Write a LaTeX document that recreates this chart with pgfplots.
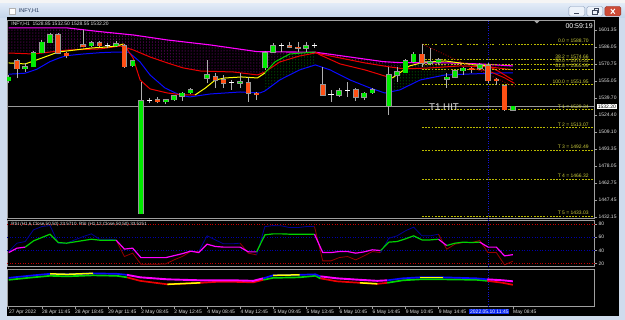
\documentclass[border=0pt]{standalone}
\usepackage{fontspec}
\setmainfont{Liberation Sans}
\usepackage{pgfplots}
\usepackage{pgfplotstable}
\pgfplotsset{compat=1.18}
\usetikzlibrary{patterns}

\definecolor{chrome}{RGB}{207,220,237}
\definecolor{titletop}{RGB}{226,235,247}
\definecolor{titlebot}{RGB}{196,213,234}
\definecolor{titletext}{RGB}{30,50,85}
\definecolor{btnfill}{RGB}{236,242,250}
\definecolor{btnborder}{RGB}{130,150,180}
\definecolor{btnicon}{RGB}{60,70,90}
\definecolor{closefill}{RGB}{205,75,55}
\definecolor{closeborder}{RGB}{140,50,40}
\definecolor{bull}{RGB}{0,235,0}
\definecolor{bear}{RGB}{255,80,20}
\definecolor{wick}{RGB}{175,175,175}
\definecolor{outl}{RGB}{150,150,150}
\definecolor{mag}{RGB}{255,0,255}
\definecolor{purp}{RGB}{175,0,175}
\definecolor{mared}{RGB}{235,0,0}
\definecolor{mablue}{RGB}{10,10,255}
\definecolor{mayel}{RGB}{255,255,0}
\definecolor{mgreen}{RGB}{0,210,0}
\definecolor{dgreen}{RGB}{0,150,0}
\definecolor{fib}{RGB}{185,185,0}
\definecolor{fibtxt}{RGB}{205,205,60}
\definecolor{navyc}{RGB}{0,0,150}
\definecolor{dred}{RGB}{150,0,0}
\definecolor{lvlred}{RGB}{200,0,0}
\definecolor{lvlblue}{RGB}{0,0,170}
\definecolor{xhair}{RGB}{20,20,210}
\definecolor{boxblue}{RGB}{10,40,240}
\definecolor{lbl}{RGB}{225,225,225}
\definecolor{dotblue}{RGB}{0,0,230}
\definecolor{dotred}{RGB}{210,0,0}

\newcommand\mt{\fontsize{5}{6}\selectfont}

% candles
\pgfplotstableread{
i o h l c
0 1555.5 1560.6 1553.1 1558.5
2 1566.1 1571.2 1563.6 1568.1
3 1568.1 1582.3 1567.6 1580.8
4 1580.8 1592.3 1580.3 1590.2
5 1589.9 1598.9 1589.3 1596.8
10 1586.9 1591.4 1586.2 1589.9
13 1586.9 1591.4 1586.2 1588.7
15 1569.0 1574.2 1568.1 1573.3
16 1434.8 1554.6 1434.8 1537.1
19 1536.5 1538.9 1534.1 1538.0
20 1538.0 1542.5 1537.4 1541.6
21 1541.6 1545.5 1537.1 1544.1
22 1544.6 1548.6 1543.4 1547.0
24 1557.6 1574.2 1553.1 1560.6
28 1553.1 1562.2 1548.6 1554.6
31 1567.2 1582.6 1565.2 1580.8
32 1581.2 1589.3 1580.3 1587.1
36 1584.8 1590.8 1581.7 1586.9
40 1542.5 1548.6 1541.0 1546.1
43 1540.4 1545.5 1538.0 1544.1
44 1544.6 1548.6 1543.4 1547.0
46 1532.6 1568.1 1524.4 1560.6
47 1560.6 1568.1 1554.6 1563.6
48 1562.7 1574.8 1562.2 1573.6
49 1572.6 1581.7 1571.8 1579.4
51 1571.2 1585.3 1569.7 1572.6
52 1572.1 1575.7 1570.6 1574.2
53 1557.0 1562.2 1548.6 1558.5
54 1558.5 1565.2 1557.6 1564.5
55 1564.5 1568.1 1560.6 1566.7
57 1566.7 1571.8 1565.2 1569.7
61 1528.85 1532.50 1528.55 1532.20
}\bullc

\pgfplotstableread{
i o h l c
1 1573.3 1574.8 1557.6 1566.1
6 1596.8 1598.4 1579.4 1580.3
7 1580.3 1581.2 1575.7 1578.1
9 1587.8 1600.9 1585.7 1586.2
11 1589.9 1591.4 1585.7 1586.9
14 1586.9 1588.4 1567.2 1568.1
18 1538.0 1540.4 1535.0 1536.5
25 1559.1 1562.2 1548.6 1556.1
26 1556.1 1560.6 1548.6 1553.1
29 1553.7 1559.1 1536.5 1544.1
30 1544.1 1545.5 1538.0 1542.8
34 1586.9 1591.4 1584.8 1585.7
35 1585.7 1590.8 1581.7 1584.8
38 1551.6 1568.1 1541.6 1542.5
42 1547.0 1548.6 1537.4 1540.4
50 1579.4 1588.7 1568.1 1571.2
56 1566.7 1568.1 1562.2 1565.2
58 1569.0 1571.2 1553.1 1555.5
59 1556.7 1557.6 1551.6 1555.5
60 1550.9 1551.6 1528.3 1528.95
}\bearc

\pgfplotstableread{
i p h l
12 1587.25 1589.3 1584.8
17 1537.35 1539.5 1535.0
27 1553.95 1556.1 1547.0
33 1586.95 1589.3 1581.7
37 1587.25 1589.9 1584.8
39 1542.55 1547.0 1536.5
41 1546.85 1554.6 1541.0
}\dojic

% moving averages
\pgfplotstableread{
i p
0 1603.2
7.1 1603.2
11.1 1599.8
15.1 1596.8
19.2 1592.3
24.4 1587.8
30.1 1581.7
37.1 1581.2
38.0 1580.3
45.3 1572.7
47.3 1571.8
53.4 1571.5
57.0 1570.6
61 1568.8
}\maM

\pgfplotstableread{
i p
0 1580.5
3 1579.6
7.1 1583.2
11.1 1584.2
13.5 1586.9
15.1 1583.2
17.1 1576.9
19.2 1571.5
21.1 1567.0
23.2 1564.2
27.2 1563.3
30.1 1560.6
31 1563.3
32.8 1572.4
35.2 1577.8
37.1 1580.5
40.1 1576.0
43.1 1571.5
46.1 1567.9
47.9 1566.1
51 1567.0
54.6 1568.8
58.2 1567.9
61 1565.2
}\maR

\pgfplotstableread{
i p
0 1571.5
2 1570.6
4.05 1576.0
6 1581.4
8 1583.2
10.1 1585.1
12 1586.0
13.1 1586.9
13.9 1588.7
15.05 1576.0
15.9 1556.1
17.1 1548.0
19.2 1544.3
21.1 1542.5
22.55 1542.5
23.8 1548.8
25 1556.1
26.2 1557.9
28.2 1558.8
30.1 1557.9
31 1562.4
32.2 1572.4
34 1579.6
37.1 1581.4
37.7 1578.7
40.1 1570.6
43.1 1565.2
45.5 1559.7
46.4 1557.9
47.3 1562.4
48.5 1568.8
50.4 1572.4
52.8 1573.3
54.6 1571.5
56.4 1569.7
58 1568.8
59.4 1563.4
61 1556.1
}\maF

\pgfplotstableread{
i p
0 1561.3
2 1562.2
3.4 1565.8
5 1572.7
6 1575.7
7 1578.1
9 1579.6
11.1 1580.8
13.1 1581.4
14.5 1581.4
15.9 1572.4
17.1 1560.6
18.9 1548.9
20.7 1542.5
21.9 1540.7
24.4 1543.4
28 1545.2
30.4 1544.3
31 1546.1
32.8 1556.1
35.2 1565.2
37.1 1569.7
38.9 1565.2
41.3 1556.1
43.7 1548.9
45.5 1544.3
47.3 1547.0
49.8 1556.1
52.8 1560.6
55.8 1561.5
59.4 1562.4
61 1562.4
}\maB

% RSI
\pgfplotstableread{
i r6 r12
0 38.3 36.7
1 51 43.4
2 53.5 45
3 71.3 54.5
4 76.3 59.6
5 77.8 64.7
6 51 52
7 51 51
8 56 53
9 61 55
10 65.2 57
11 57 55.6
12 57 55.6
13 56 55.6
14 30.7 42
15 35.8 43.4
16 19 29
17 19 29
18 19 29
19 19.5 29
20 25.6 32
21 30.7 35
22 38.3 38.9
23 38.3 36.7
24 62.2 49.5
25 56 46
26 50 45
27 50 45
28 51 45
29 35.8 37.8
30 33.2 37.8
31 76.3 63.7
32 77.8 65.2
33 77.4 65.2
34 74.8 64.7
35 74.8 64.7
36 76.3 64.7
37 76.3 64.7
38 24.1 36.7
39 24.1 36.7
40 29.1 38.3
41 30.7 38.3
42 25.6 35.8
43 31.7 37.8
44 38.3 40.9
45 36.7 39.8
46 58.6 52.6
47 62.2 53.5
48 69.8 57.6
49 75.4 62.2
50 62.2 56
51 62.2 56
52 64.7 57
53 41.9 47.4
54 49.5 51
55 52 52.6
56 52 52
57 55 52.6
58 36.7 45
59 36.7 45
60 18 31.7
61 23.57 33.53
}\rsi

% lower oscillator ribbon
\pgfplotstableread{
i u l
0 77.3 72
3 84 78.7
5 88 82.7
7.1 86.7 81.3
10.2 89.3 84
13.1 88 82.7
14.3 85.3 78.7
15.9 78.7 69.3
19.2 73.3 60
23.2 70.7 64
25.2 70.7 66.7
27.2 70.7 66.7
29.6 69.3 65.3
30.8 76 72
32 84 77.3
35.2 85.3 78.7
37.1 86.7 82.7
37.7 81.3 76
39.7 76 68
42.5 72 64
44.6 69.3 61.3
45.8 70.7 64
47.7 76 70.7
49.8 78.7 73.3
52.5 78.7 73.3
56.6 76 72
57.9 73.3 69.3
59.8 70.7 64
61 68 58.7
}\osc

\pgfplotsset{
  pane/.style={scale only axis, width=588bp, xmin=-0.181, xmax=70.92,
    anchor=south west,
    axis background/.style={fill=black},
    axis line style={draw=gray!75, line width=0.8bp},
    tick style={draw=gray!75, line width=0.5bp},
    major tick length=2.5bp, tick align=outside,
    ticklabel style={font=\mt, text=lbl, inner sep=1bp},
    clip=true},
  ebar/.style 2 args={forget plot, mark=none, draw opacity=0,
    error bars/y dir=plus, error bars/y explicit, error bars/error mark=none,
    error bars/error bar style={draw=#1, draw opacity=1, line width=#2}},
  sqdot/.style={only marks, mark=square*, mark size=0.65bp, mark options={draw=none, fill=#1}},
  fibl/.style={fib, line width=0.6bp, dash pattern=on 1.8bp off 1.4bp},
}

\begin{document}
\begin{tikzpicture}
% window chrome
\begin{scope}[x=1bp,y=1bp]
\fill[chrome] (0,0) rectangle (625,320);
\fill[black!4] (0,317) rectangle (625,320);
\draw[black!20] (0,317) -- (625,317);
\shade[top color=titletop, bottom color=titlebot] (0,302.5) rectangle (625,316.5);
\fill[black] (6.5,3.5) rectangle (619,302.5);
\draw[fill=white, draw=gray!60] (9,306) rectangle (15,312);
\node[anchor=west, font=\fontsize{5.5}{6}\selectfont, text=titletext, inner sep=0] at (18.5,309) {INFY,H1};
\draw[fill=btnfill, draw=btnborder, rounded corners=1.5bp] (569,304) rectangle (585,313.5);
\draw[line width=1.2bp, btnicon] (574.5,306.5) -- (579.5,306.5);
\draw[fill=btnfill, draw=btnborder, rounded corners=1.5bp] (587,304) rectangle (603,313.5);
\draw[line width=0.6bp, btnicon] (592.5,306) rectangle (597,310) (594,310) -- (594,311.5) -- (598.5,311.5) -- (598.5,307.5) -- (597,307.5);
\draw[fill=closefill, draw=closeborder, rounded corners=1.5bp] (605,304) rectangle (621,313.5);
\draw[line width=1bp, white] (611,306.3) -- (615,311) (611,311) -- (615,306.3);
\end{scope}

% ===== main pane =====
\begin{axis}[pane, at={(7bp,101.5bp)}, height=198.5bp,
  ymin=1430.76, ymax=1610.40, xtick=\empty,
  ytick={1601.35,1586.05,1570.75,1555.05,1539.70,1524.40,1509.10,1493.35,1478.05,1462.75,1447.45,1432.15},
  yticklabels={1601.35,1586.05,1570.75,1555.05,1539.70,1524.40,1509.10,1493.35,1478.05,1462.75,1447.45,1432.15},
  ytick pos=right, yticklabel pos=right]
  % dotted cloud bands
  \addplot[pattern=dots, pattern color=purp, draw=none, forget plot] coordinates {
    (0,1603.2) (7.1,1603.2) (11.1,1599.8) (15.1,1596.8) (19.2,1592.3) (24.4,1587.8) (30.1,1581.7) (37.1,1581.2) (38.0,1580.3) (45.3,1572.7) (47.3,1571.8) (53.4,1571.5) (57.0,1570.6) (61,1568.8)
    (61,1565.2) (58.2,1567.9) (54.6,1568.8) (51,1567.0) (47.9,1566.1) (46.1,1567.9) (43.1,1571.5) (40.1,1576.0) (37.1,1580.5) (35.2,1577.8) (32.8,1572.4) (31,1563.3) (30.1,1560.6) (27.2,1563.3) (23.2,1564.2) (21.1,1567.0) (19.2,1571.5) (17.1,1576.9) (15.1,1583.2) (13.5,1586.9) (11.1,1584.2) (7.1,1583.2) (3,1579.6) (0,1580.5)} -- cycle;
  \addplot[pattern=dots, pattern color=dgreen, draw=none, forget plot] coordinates {
    (31,1562.4) (32.2,1572.4) (34,1579.6) (37.1,1581.4) (37.1,1569.7) (35.2,1565.2) (32.8,1556.1) (31,1546.1)} -- cycle;
  \addplot[pattern=dots, pattern color=dgreen, draw=none, forget plot] coordinates {
    (46.4,1557.9) (47.3,1562.4) (48.5,1568.8) (50.4,1572.4) (52.8,1573.3) (52.8,1560.6) (49.8,1556.1) (47.3,1547.0) (46.4,1545.6)} -- cycle;
  % moving averages
  \addplot[mared, line width=1bp] table {\maR};
  \addplot[mablue, line width=1bp] table {\maB};
  \addplot[mag, line width=1.1bp] table {\maM};
  \addplot[mayel, line width=1bp, restrict x to domain=0:13.9] table {\maF};
  \addplot[mared, line width=1bp, restrict x to domain=13.9:22.55] table {\maF};
  \addplot[mayel, line width=1bp, restrict x to domain=22.55:31] table {\maF};
  \addplot[mgreen, line width=1bp, restrict x to domain=31:37.1] table {\maF};
  \addplot[mared, line width=1bp, restrict x to domain=37.1:46.4] table {\maF};
  \addplot[mayel, line width=1bp, restrict x to domain=46.4:58] table {\maF};
  \addplot[mared, line width=1bp, restrict x to domain=58:61] table {\maF};
  \addplot[mared, line width=0.9bp] coordinates {(55.8,1566.5) (58,1564.5) (60,1558) (61.2,1553)};
  % support / resistance dots
  \addplot[sqdot=dotblue] coordinates {(1,1553.5)(2,1553.5)(3,1553.5)(4,1553.5)(5,1553.5)(6,1553.5)(7,1553.5)(8,1553.5)(9,1553.5)(10,1553.5)(11,1553.5)(12,1553.5)(13,1553.5)(14,1553.5)(15,1553.5)};
  \addplot[sqdot=dotblue] coordinates {(17,1434.8)(18,1434.8)(19,1434.8)(20,1434.8)(21,1434.8)(22,1434.8)(23,1434.8)(24,1434.8)(25,1434.8)(26,1434.8)(27,1434.8)(28,1434.8)(29,1434.8)(30,1434.8)(31,1434.8)(32,1434.8)(33,1434.8)(34,1434.8)(35,1434.8)(36,1434.8)(37,1434.8)(38,1434.8)(39,1434.8)(40,1434.8)(41,1434.8)(42,1434.8)(43,1434.8)(44,1434.8)(45,1434.8)};
  \addplot[sqdot=dotblue] coordinates {(47,1524.4)(48,1524.4)(49,1524.4)(50,1524.4)(51,1524.4)(52,1524.4)(53,1524.4)(54,1524.4)(55,1524.4)(56,1524.4)(57,1524.4)(58,1524.4)(59,1524.4)};
  \addplot[sqdot=dotred] coordinates {(34,1591.4)(35,1591.4)(36,1591.4)(37,1591.4)(38,1591.4)(39,1591.4)(40,1591.4)(41,1591.4)(42,1591.4)(43,1591.4)(44,1591.4)(45,1591.4)(46,1591.4)(47,1591.4)(48,1591.4)(49,1591.4)};
  \addplot[sqdot=dotred] coordinates {(51,1588.7)(52,1588.7)(53,1588.7)(54,1588.7)(55,1588.7)(56,1588.7)(57,1588.7)(58,1588.7)(59,1588.7)(60,1588.7)(61,1588.7)};
  % fibonacci levels and targets
  \addplot[fibl] coordinates {(50,1588.70) (70.92,1588.70)};
  \addplot[fibl] coordinates {(50,1574.66) (70.92,1574.66)};
  \addplot[fibl] coordinates {(50,1570.33) (70.92,1570.33)};
  \addplot[fibl] coordinates {(50,1565.99) (70.92,1565.99)};
  \addplot[fibl] coordinates {(50,1551.95) (70.92,1551.95)};
  \addplot[fibl] coordinates {(50,1529.34) (70.92,1529.34)};
  \addplot[fibl] coordinates {(50,1513.07) (70.92,1513.07)};
  \addplot[fibl] coordinates {(50,1492.49) (70.92,1492.49)};
  \addplot[fibl] coordinates {(50,1466.32) (70.92,1466.32)};
  \addplot[fibl] coordinates {(50,1433.03) (70.92,1433.03)};
  \addplot[dred, line width=0.9bp, dash pattern=on 1bp off 1.6bp] coordinates {(50,1588.7) (61.2,1550)};
  % bid line and crosshair
  \addplot[gray!80, line width=0.6bp] coordinates {(-0.181,1532.2) (70.92,1532.2)};
  \addplot[xhair, line width=0.6bp, dash pattern=on 0.8bp off 1.6bp] coordinates {(58,1430.76) (58,1610.4)};
  % candles
  \addplot[ebar={wick}{0.8bp}] table[x=i, y=l, y error plus expr=\thisrow{h}-\thisrow{l}] {\bullc};
  \addplot[ebar={wick}{0.8bp}] table[x=i, y=l, y error plus expr=\thisrow{h}-\thisrow{l}] {\bearc};
  \addplot[ebar={wick}{0.8bp}] table[x=i, y=l, y error plus expr=\thisrow{h}-\thisrow{l}] {\dojic};
  \addplot[ebar={outl}{5.6bp}] table[x=i, y expr=\thisrow{o}-0.5, y error plus expr={max(\thisrow{c}-\thisrow{o},0.8)+1.0}] {\bullc};
  \addplot[ebar={outl}{5.6bp}] table[x=i, y expr=\thisrow{c}-0.5, y error plus expr={max(\thisrow{o}-\thisrow{c},0.8)+1.0}] {\bearc};
  \addplot[ebar={bull}{4.2bp}] table[x=i, y=o, y error plus expr={max(\thisrow{c}-\thisrow{o},0.8)}] {\bullc};
  \addplot[ebar={bear}{4.2bp}] table[x=i, y=c, y error plus expr={max(\thisrow{o}-\thisrow{c},0.8)}] {\bearc};
  \addplot[ebar={white}{5.2bp}] table[x=i, y expr=\thisrow{p}-0.45, y error plus expr=0.9] {\dojic};
\end{axis}

% ===== RSI pane =====
\begin{axis}[pane, at={(7bp,53bp)}, height=46.5bp,
  ymin=15, ymax=85.75, xtick=\empty,
  ytick={20,40,60,80}, yticklabels={20,40,60,80},
  ytick pos=right, yticklabel pos=right]
  \addplot[lvlred, line width=0.7bp, dash pattern=on 1bp off 1.6bp] coordinates {(-0.181,80) (70.92,80)};
  \addplot[lvlred, line width=0.7bp, dash pattern=on 1bp off 1.6bp] coordinates {(-0.181,20) (70.92,20)};
  \addplot[lvlblue, line width=0.7bp, dash pattern=on 1bp off 1.6bp] coordinates {(-0.181,60) (70.92,60)};
  \addplot[lvlblue, line width=0.7bp, dash pattern=on 1bp off 1.6bp] coordinates {(-0.181,40) (70.92,40)};
  \addplot[xhair, line width=0.6bp, dash pattern=on 0.8bp off 1.6bp] coordinates {(58,15) (58,85.75)};
  % RSI 6
  \addplot[navyc, line width=0.8bp, restrict x to domain=0:13] table[x=i,y=r6] {\rsi};
  \addplot[dred, line width=0.8bp, restrict x to domain=13:23] table[x=i,y=r6] {\rsi};
  \addplot[navyc, line width=0.8bp, restrict x to domain=23:28] table[x=i,y=r6] {\rsi};
  \addplot[dred, line width=0.8bp, restrict x to domain=28:30] table[x=i,y=r6] {\rsi};
  \addplot[navyc, line width=0.8bp, restrict x to domain=30:37] table[x=i,y=r6] {\rsi};
  \addplot[dred, line width=0.8bp, restrict x to domain=37:45] table[x=i,y=r6] {\rsi};
  \addplot[navyc, line width=0.8bp, restrict x to domain=45:52] table[x=i,y=r6] {\rsi};
  \addplot[dred, line width=0.8bp, restrict x to domain=52:61] table[x=i,y=r6] {\rsi};
  % RSI 12
  \addplot[mag, line width=1.2bp, restrict x to domain=0:2] table[x=i,y=r12] {\rsi};
  \addplot[mgreen, line width=1.2bp, restrict x to domain=2:13] table[x=i,y=r12] {\rsi};
  \addplot[mag, line width=1.2bp, restrict x to domain=13:30] table[x=i,y=r12] {\rsi};
  \addplot[mgreen, line width=1.2bp, restrict x to domain=30:37] table[x=i,y=r12] {\rsi};
  \addplot[mag, line width=1.2bp, restrict x to domain=37:45] table[x=i,y=r12] {\rsi};
  \addplot[mgreen, line width=1.2bp, restrict x to domain=45:52] table[x=i,y=r12] {\rsi};
  \addplot[mag, line width=1.2bp, restrict x to domain=52:53] table[x=i,y=r12] {\rsi};
  \addplot[mgreen, line width=1.2bp, restrict x to domain=53:57] table[x=i,y=r12] {\rsi};
  \addplot[mag, line width=1.2bp, restrict x to domain=57:61] table[x=i,y=r12] {\rsi};
\end{axis}

% ===== lower oscillator pane =====
\begin{axis}[pane, at={(7bp,13bp)}, height=37.5bp,
  ymin=0, ymax=100, ytick=\empty,
  xtick={0,4,8,12,16,20,24,28,32,36,40,44,48,52,61},
  xticklabels={27 Apr 2022,28 Apr 11:45,28 Apr 18:45,29 Apr 11:45,2 May 08:45,2 May 12:45,4 May 08:45,4 May 12:45,5 May 09:45,5 May 13:45,6 May 10:45,6 May 14:45,9 May 10:45,9 May 14:45,May 08:45},
  xtick pos=left, xticklabel style={anchor=north west, xshift=-0.6bp, inner sep=0.8bp}]
  \addplot[xhair, line width=0.6bp, dash pattern=on 0.8bp off 1.6bp] coordinates {(58,0) (58,100)};
  \addplot[mared, line width=1.7bp, restrict x to domain=14.3:30.8] table[x=i,y=l] {\osc};
  \addplot[mared, line width=1.7bp, restrict x to domain=37.7:45.8] table[x=i,y=l] {\osc};
  \addplot[mared, line width=1.7bp, restrict x to domain=57.9:61] table[x=i,y=l] {\osc};
  \addplot[mgreen, line width=1.7bp, restrict x to domain=0:14.3] table[x=i,y=l] {\osc};
  \addplot[mgreen, line width=1.7bp, restrict x to domain=30.8:37.7] table[x=i,y=l] {\osc};
  \addplot[mgreen, line width=1.7bp, restrict x to domain=45.8:57.9] table[x=i,y=l] {\osc};
  \addplot[mag, line width=1.9bp, restrict x to domain=14.3:30.8] table[x=i,y=u] {\osc};
  \addplot[mag, line width=1.9bp, restrict x to domain=37.7:45.8] table[x=i,y=u] {\osc};
  \addplot[mag, line width=1.9bp, restrict x to domain=57.9:61] table[x=i,y=u] {\osc};
  \addplot[mablue, line width=1.7bp, restrict x to domain=0:14.3] table[x=i,y=u] {\osc};
  \addplot[mablue, line width=1.7bp, restrict x to domain=30.8:37.7] table[x=i,y=u] {\osc};
  \addplot[mablue, line width=1.7bp, restrict x to domain=45.8:57.9] table[x=i,y=u] {\osc};
  \addplot[mayel, line width=1.5bp, restrict x to domain=5:10.2] table[x=i,y=u] {\osc};
  \addplot[mayel, line width=1.5bp, restrict x to domain=32:35.2] table[x=i,y=u] {\osc};
  \addplot[mayel, line width=1.5bp, restrict x to domain=49.8:52.5] table[x=i,y=u] {\osc};
  \addplot[mayel, line width=1.5bp, restrict x to domain=19.2:23.2] table[x=i,y=l] {\osc};
  \addplot[mayel, line width=1.5bp, restrict x to domain=42.5:44.6] table[x=i,y=l] {\osc};
\end{axis}

% ===== text overlays =====
\begin{scope}[x=1bp,y=1bp]
\node[anchor=west, font=\mt, text=lbl, inner sep=0] at (11,295.5) {INFY,H1\ \ 1528.85 1532.50 1528.55 1532.20};
\node[anchor=east, font=\fontsize{7}{8}\selectfont, text=white, inner sep=0] at (593,294) {00:59:19};
\fill[gray!70] (534,299.5) -- (540,299.5) -- (537,296.5) -- cycle;
\node[anchor=base west, font=\fontsize{9.8}{10}\selectfont, text=lbl, inner sep=0] at (429,209.8) {T1 HIT};
\begin{scope}[every node/.style={anchor=base east, font=\mt, text=fibtxt, inner sep=0}]
\node at (589,277.3) {0.0 = 1588.70};
\node at (589,261.8) {38.2 = 1574.66};
\node at (589,257.0) {50.0 = 1570.33};
\node at (589,252.2) {61.8 = 1565.99};
\node at (589,236.7) {100.0 = 1551.95};
\node at (589,211.7) {T 1 = 1529.34};
\node at (589,193.8) {T 2 = 1513.07};
\node at (589,171.0) {T 3 = 1492.49};
\node at (589,142.1) {T 4 = 1466.32};
\node at (589,105.3) {T 5 = 1433.03};
\end{scope}
\node[anchor=west, fill=white, text=black, font=\mt, inner sep=0.8bp] at (597,213.6) {1532.20};
\node[anchor=west, font=\fontsize{4.6}{5}\selectfont, text=lbl, inner sep=0] at (11,95.5) {RSI (H1,6,Close,50,50) 23.5710\ \ RSI (H1,12,Close,50,50) 33.5251};
\node[fill=boxblue, text=white, font=\mt, inner sep=0.9bp] at (489.5,8.3) {2022.05.10 11:45};
\end{scope}
\end{tikzpicture}
\end{document}
